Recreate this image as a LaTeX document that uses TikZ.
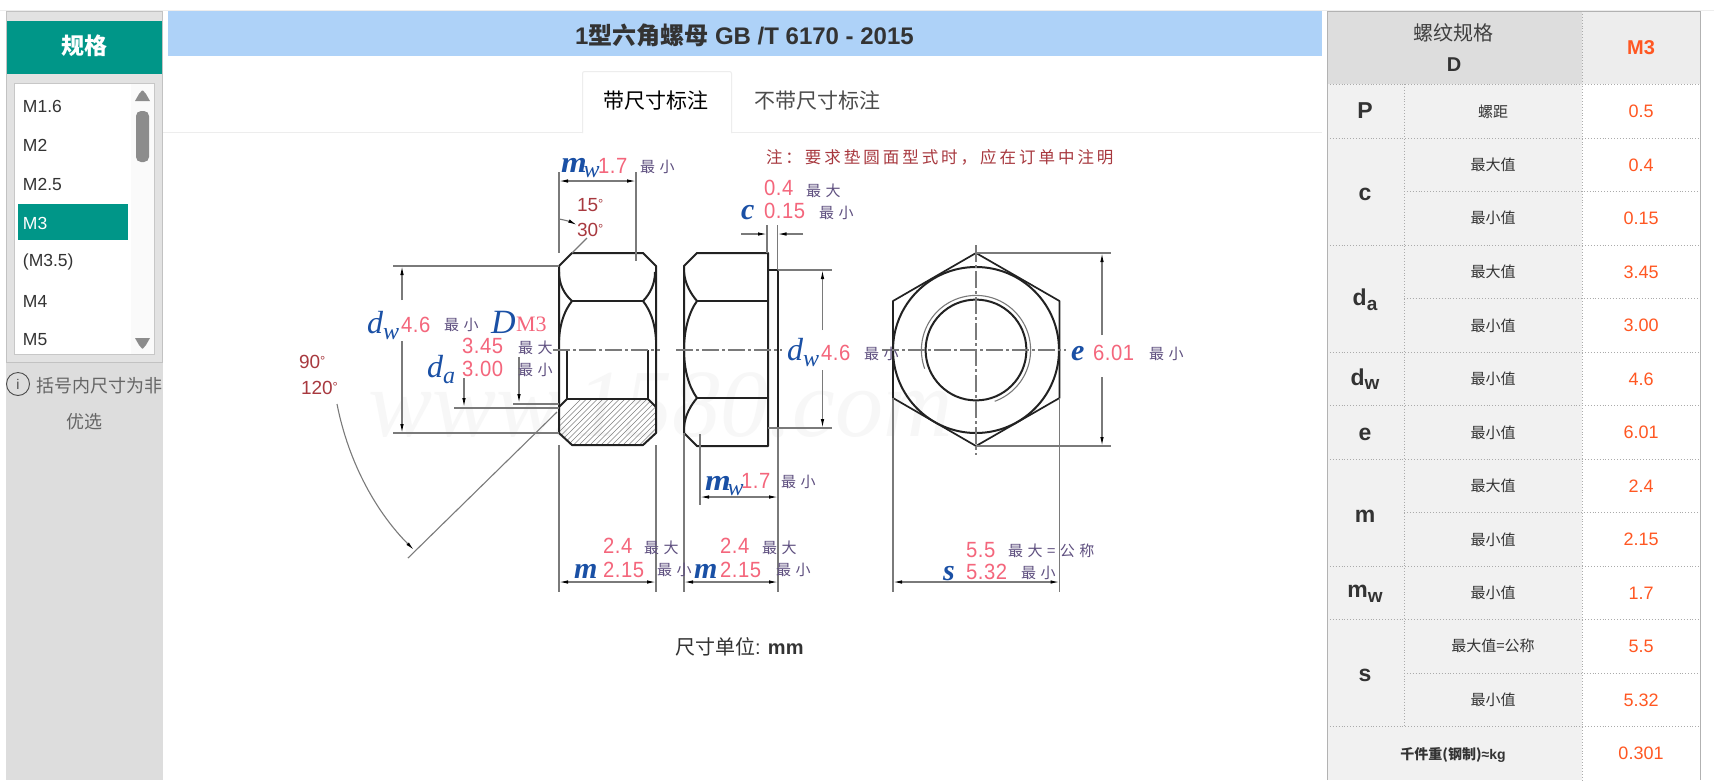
\documentclass[tikz,border=0pt]{standalone}
\usepackage{fontspec}
\usepackage{graphicx}
\usetikzlibrary{arrows.meta}
\setmainfont{Liberation Sans}
\newfontfamily\cjk{Noto Sans CJK SC}
\newfontfamily\cjkzui[LetterSpace=30]{Noto Sans CJK SC}
\newfontfamily\cjknote[LetterSpace=18]{Noto Sans CJK SC}
\newfontfamily\srf{Liberation Serif}
\newcommand\fs[1]{\fontsize{#1}{#1}\selectfont}
\definecolor{teal1}{HTML}{009688}
\definecolor{sidebg}{HTML}{DDDDDD}
\definecolor{sidelt}{HTML}{E2E2E2}
\definecolor{sideln}{HTML}{C2C2C2}
\definecolor{titlebg}{HTML}{AED2F8}
\definecolor{ink}{HTML}{333333}
\definecolor{dimred}{HTML}{F4667C}
\definecolor{dimblue}{HTML}{1A50A5}
\definecolor{dimpurple}{HTML}{5F5080}
\definecolor{notered}{HTML}{A8393F}
\definecolor{orng}{HTML}{FF5722}
\definecolor{cellbg}{HTML}{F1F1F1}
\definecolor{drawline}{HTML}{7A7A7A}
\definecolor{bold}{HTML}{222222}
\newcommand\rn[1]{\scalebox{.92}[1]{\fs{22}\addfontfeature{LetterSpace=3}#1}}
\newcommand\zui[1]{{\cjkzui\fs{15}\color{dimpurple}#1}}
\newcommand\mw{\scalebox{1.1}[1]{\srf\bfseries\itshape\fs{30}m}\kern-3pt\raisebox{-5pt}{\srf\itshape\fs{24}w}}
\newcommand\dsub[1]{\srf\itshape\fs{32}d\kern0pt\raisebox{-6pt}{\fs{24}#1}}
\newcommand\dg{\raisebox{3pt}{\fs{13}°}}
\tikzset{
 txt/.style={inner sep=0pt,outer sep=0pt,font=\fs{16},text=ink},
 lab/.style={txt,anchor=west},
 item/.style={lab,font=\fs{17.5}},
 nutline/.style={draw=bold,line width=2pt,line join=round},
 thin1/.style={draw=drawline,line width=1.1pt},
 dim/.style={thin1,{Latex[length=9pt,width=3.5pt,black]}-{Latex[length=9pt,width=3.5pt,black]}},
 tipend/.style={thin1,-{Latex[length=9pt,width=3.5pt,black]}},
 ctr/.style={draw=drawline,line width=1.1pt,dash pattern=on 17pt off 3pt on 3pt off 3pt},
 tabline/.style={draw=black!33,line width=.9pt,dotted},
 cval/.style={txt,text=orng,font=\fs{18}},
 cmid/.style={txt,font={\cjk\fs{15}}},
 chead/.style={txt,font=\bfseries\fs{23}},
 redtxt/.style={lab,text=dimred},
 blue/.style={lab,text=dimblue},
 ang/.style={lab,text=notered,font=\fs{19}},
}
\begin{document}
\begin{tikzpicture}[x=1pt,y=-1pt]
\useasboundingbox (0,0) rectangle (1714,780);
\fill[white] (0,0) rectangle (1714,780);
\draw[black!7] (0,10.5) -- (1714,10.5);
% ---- side panel
\fill[sidebg] (6,11) rectangle (163,780);
\filldraw[fill=sidelt,draw=sideln,line width=.9pt] (6.5,11.5) rectangle (162.5,362);
\fill[teal1] (7,21) rectangle (162,74);
\node[txt,text=white,font={\cjk\bfseries\fs{23}}] (specT) at (84,46) {规格};
\filldraw[fill=white,draw=black!22,line width=.9pt] (14.5,83.5) rectangle (154.5,354.5);
\fill[black!2] (131,84) rectangle (154,354);
\fill[teal1] (18,204) rectangle (128,240);
\fill[black!45] (135,101) -- (150,101) -- (146,94) -- (143,90.5) -- (142,90.5) -- (139,94) -- cycle;
\fill[black!45] (135,338) -- (150,338) -- (146,345) -- (143,348.5) -- (142,348.5) -- (139,345) -- cycle;
\fill[black!45,rounded corners=5pt] (136,111) rectangle (149,162);
\node[item] (i1) at (23,106) {M1.6};
\node[item] (i2) at (23,145) {M2};
\node[item] (i3) at (23,184) {M2.5};
\node[item,text=white] (i4) at (23,223) {M3};
\node[item] (i5) at (23,262) {(M3.5)};
\node[item] (i6) at (23,301) {M4};
\node[item] (i7) at (23,340) {M5};
\node[circle,draw=black!70,line width=.9pt,minimum size=23pt,inner sep=0pt,font=\fs{14},text=black!70] (info) at (18,384) {i};
\node[lab,text=black!60,font={\cjk\fs{18}}] (note1) at (36,386) {括号内尺寸为非};
\node[txt,text=black!60,font={\cjk\fs{18}}] (note2) at (84,422) {优选};
% ---- title and tabs
\fill[titlebg] (168,11) rectangle (1322,56);
\node[lab,font=\bfseries\fs{24}] (title) at (575,35) {1{\cjk 型六角螺母} GB /T 6170 - 2015};
\draw[black!7,line width=1pt] (163,132) -- (1322,132);
\filldraw[fill=white,draw=black!7,line width=1pt,rounded corners=2pt] (582.5,133) -- (582.5,71.5) -- (731.5,71.5) -- (731.5,133);
\node[txt,text=black,font={\cjk\fs{21}}] (tab1) at (656,101) {带尺寸标注};
\node[txt,text=black!70,font={\cjk\fs{21}}] (tab2) at (817,101) {不带尺寸标注};
\node[lab,font=\fs{20}] (unit) at (675,647) {{\cjk 尺寸单位}: \textbf{mm}};
% ---- watermark
\node[lab,text=black!3,font={\srf\itshape\fs{96}}] (wm) at (368,405) {www.1580.com};
% ---- nut A: hatching
\begin{scope}
\clip (559,407) -- (567,399) -- (648,399) -- (656,407) -- (656,433) -- (643,445) -- (572,445) -- (559,433) -- cycle;
\foreach \h in {0,5.5,...,170}{\draw[draw=black!50,line width=.6pt] (530+\h,450) -- (585+\h,395);}
\end{scope}
% ---- nut A: outline
\draw[nutline] (572,253) -- (643,253) -- (656,266) -- (656,433) -- (643,445) -- (572,445) -- (559,433) -- (559,266) -- cycle;
\draw[nutline] (572,301) -- (643,301);
\draw[nutline] (559,272) .. controls (559,284) and (564,294) .. (572,301);
\draw[nutline] (655,272) .. controls (655,284) and (650,294) .. (643,301);
\draw[nutline] (572,301) .. controls (565,310) and (560,322) .. (559,340);
\draw[nutline] (643,301) .. controls (650,310) and (655,322) .. (656,340);
\draw[nutline] (567,350) -- (567,399) -- (648,399) -- (648,350);
\draw[nutline] (559,407) -- (567,399) (648,399) -- (656,407);
% ---- nut B: outline
\draw[nutline] (697,253) -- (768,253) -- (768,446) -- (697,446) -- (684,433) -- (684,266) -- cycle;
\draw[nutline] (768,270) -- (778,270) -- (778,428) -- (768,428);
\draw[nutline] (697,301) -- (768,301) (697,398) -- (768,398);
\draw[nutline] (684,272) .. controls (685,284) and (691,294) .. (697,301);
\draw[nutline] (684,427) .. controls (685,415) and (691,405) .. (697,398);
\draw[nutline] (697,301) .. controls (689,312) and (684,330) .. (684,350) .. controls (684,370) and (689,387) .. (697,398);
% ---- nut C: end view
\draw[nutline,line width=1.7pt] (976,253) -- (1059.5,301) -- (1059.5,398) -- (976,446) -- (893,398) -- (893,301) -- cycle;
\draw[nutline] (976,350) circle[radius=83];
\draw[nutline] (976,350) circle[radius=50.4];
\draw[thin1] plot[domain=160:430,samples=80,smooth] ({976+54.6*cos(\x)},{350+54.6*sin(\x)});
% ---- centre lines
\draw[ctr] (553,350) -- (660,350);
\draw[ctr] (676,350) -- (782,350);
\draw[ctr] (882,350) -- (1066,350);
\draw[ctr] (976,245) -- (976,455);
% ---- extension lines
\draw[thin1] (559,172) -- (559,253) (636,172) -- (636,261);
\draw[thin1] (559,445) -- (559,592) (656,445) -- (656,592);
\draw[thin1] (684,433) -- (684,592) (778,428) -- (778,592);
\draw[thin1] (700,434) -- (700,505);
\draw[thin1] (767,225) -- (767,253) (777.5,225) -- (777.5,270);
\draw[thin1] (893,398) -- (893,592) (1059.5,398) -- (1059.5,592);
\draw[thin1] (393,266) -- (559,266) (393,433) -- (559,433);
\draw[thin1] (454,408) -- (559,408) (513,404) -- (559,404);
\draw[thin1] (778,270) -- (831.5,270) (768,428) -- (831.5,428);
\draw[thin1] (976,253) -- (1111,253) (976,446) -- (1111,446);
% ---- dimension lines
\draw[dim] (559,181) -- (636,181);
\draw[dim] (559,582) -- (656,582);
\draw[dim] (684,582) -- (778,582);
\draw[dim] (700,497) -- (778,497);
\draw[dim] (893,582) -- (1059.5,582);
\coordinate (c1) at (741,234); \coordinate (c2) at (767,234); \coordinate (c3) at (777.5,234); \coordinate (c4) at (803,234);
\draw[tipend] (c1) -- (c2);
\draw[tipend] (c4) -- (c3);
\draw[tipend] (402,300) -- (402,266);
\draw[tipend] (402,341) -- (402,433);
\draw[tipend] (822.5,330) -- (822.5,270);
\draw[tipend] (822.5,370) -- (822.5,428);
\draw[tipend] (1102,335) -- (1102,253);
\draw[tipend] (1102,377) -- (1102,446);
\draw[tipend] (464,378) -- (464,407);
\draw[tipend] (519,357) -- (519,403);
\draw[tipend] (559,219) .. controls (565,220) and (571,222) .. (577,225);
\draw[thin1] (587,238) -- (572,253);
\draw[thin1] (557,412) -- (408,558);
\draw[tipend] (337,404) .. controls (349,465) and (378,514) .. (414,550);
% ---- drawing texts: top
\node[lab,text=notered,font={\cjknote\fs{16.5}}] (note) at (766,157) {注：要求垫圆面型式时，应在订单中注明};
\node[blue] (mwA) at (561,168) {\mw};
\node[redtxt] (mwAv) at (598,166) {\rn{1.7}};
\node[lab] (mwAz) at (640,167) {\zui{最小}};
\node[ang] (a15) at (577,205) {15\dg};
\node[ang] (a30) at (577,230) {30\dg};
\node[ang] (a90) at (299,362) {90\dg};
\node[ang] (a120) at (301,388) {120\dg};
% left
\node[blue] (dwA) at (367,326) {\dsub{w}};
\node[redtxt] (dwAv) at (401,325) {\rn{4.6}};
\node[lab] (dwAz) at (444,325) {\zui{最小}};
\node[blue,font={\srf\itshape\fs{34}}] (D) at (491,322) {D};
\node[redtxt,font={\srf\fs{22}}] (M3t) at (516,324) {M3};
\node[redtxt] (d345) at (462,346) {\rn{3.45}};
\node[lab] (d345z) at (518,348) {\zui{最大}};
\node[blue] (da) at (427,370) {\dsub{a}};
\node[redtxt] (d300) at (462,369) {\rn{3.00}};
\node[lab] (d300z) at (518,370) {\zui{最小}};
% c
\node[blue,font={\srf\bfseries\itshape\fs{30}}] (cl) at (741,213) {c};
\node[redtxt] (c04) at (764,188) {\rn{0.4}};
\node[lab] (c04z) at (806,191) {\zui{最大}};
\node[redtxt] (c015) at (764,211) {\rn{0.15}};
\node[lab] (c015z) at (819,213) {\zui{最小}};
% right dw, e
\node[blue] (dwB) at (787,353) {\dsub{w}};
\node[redtxt] (dwBv) at (821,353) {\rn{4.6}};
\node[lab] (dwBz) at (864,354) {\zui{最小}};
\node[blue,font={\srf\bfseries\itshape\fs{30}}] (el) at (1071,354) {e};
\node[redtxt] (ev) at (1093,353) {\rn{6.01}};
\node[lab] (evz) at (1149,354) {\zui{最小}};
% bottom
\node[blue] (mwB) at (705,486) {\mw};
\node[redtxt] (mwBv) at (741,481) {\rn{1.7}};
\node[lab] (mwBz) at (781,482) {\zui{最小}};
\node[redtxt] (m24a) at (603,546) {\rn{2.4}};
\node[lab] (m24az) at (644,548) {\zui{最大}};
\node[blue,font={\srf\bfseries\itshape\fs{30}}] (mA) at (574,571) {m};
\node[redtxt] (m215a) at (603,570) {\rn{2.15}};
\node[lab] (m215az) at (657,570) {\zui{最小}};
\node[redtxt] (m24b) at (720,546) {\rn{2.4}};
\node[lab] (m24bz) at (762,548) {\zui{最大}};
\node[blue,font={\srf\bfseries\itshape\fs{30}}] (mB) at (694,571) {m};
\node[redtxt] (m215b) at (720,570) {\rn{2.15}};
\node[lab] (m215bz) at (776,570) {\zui{最小}};
\node[redtxt] (s55) at (966,550) {\rn{5.5}};
\node[lab] (s55z) at (1008,551) {\zui{最大=公称}};
\node[blue,font={\srf\bfseries\itshape\fs{30}}] (sl) at (943,574) {s};
\node[redtxt] (s532) at (966,572) {\rn{5.32}};
\node[lab] (s532z) at (1021,573) {\zui{最小}};
% ---- table
\fill[cellbg] (1327,84) rectangle (1582,780);
\fill[sidebg] (1327,11) rectangle (1582,84);
\fill[black!7] (1582,11) rectangle (1700,84);
\draw[tabline] (1404,84) -- (1404,726);
\draw[tabline] (1582,11) -- (1582,780);
\draw[tabline] (1327,84) -- (1700,84);
\foreach \yy in {138.5,245.5,352,405,459,566,619,726}{\draw[tabline] (1327,\yy) -- (1700,\yy);}
\foreach \yy in {191.5,298.5,512,673}{\draw[tabline] (1404,\yy) -- (1700,\yy);}
\draw[draw=black!30,line width=1pt] (1327,780) -- (1327,11) -- (1700,11) -- (1700,780);
\node[txt,font={\cjk\fs{20}},text=black!75] (h1) at (1453,33) {螺纹规格};
\node[txt,font=\bfseries\fs{20}] (h2) at (1454,65) {D};
\node[txt,font=\bfseries\fs{20},text=orng] (h3) at (1641,48) {M3};
\node[chead] (lP) at (1365,111) {P};
\node[chead] (lc) at (1365,194) {c};
\node[chead] (lda) at (1365,300) {d\raisebox{-4.5pt}{\fs{19}a}};
\node[chead] (ldw) at (1365,379) {d\raisebox{-4.5pt}{\fs{19}w}};
\node[chead] (le) at (1365,434) {e};
\node[chead] (lm) at (1365,516) {m};
\node[chead] (lmw) at (1365,594) {m\raisebox{-4.5pt}{\fs{19}w}};
\node[chead] (ls) at (1365,675) {s};
\node[cmid] (t1) at (1493,112) {螺距};
\node[cmid] (t2) at (1493,165) {最大值};
\node[cmid] (t3) at (1493,218) {最小值};
\node[cmid] (t4) at (1493,272) {最大值};
\node[cmid] (t5) at (1493,326) {最小值};
\node[cmid] (t6) at (1493,379) {最小值};
\node[cmid] (t7) at (1493,433) {最小值};
\node[cmid] (t8) at (1493,486) {最大值};
\node[cmid] (t9) at (1493,540) {最小值};
\node[cmid] (t10) at (1493,593) {最小值};
\node[cmid] (t11) at (1493,646) {最大值=公称};
\node[cmid] (t12) at (1493,700) {最小值};
\node[txt,font=\bfseries\fs{14}] (t13) at (1453,755) {{\cjk 千件重(钢制)}≈kg};
\node[cval] (v1) at (1641,111) {0.5};
\node[cval] (v2) at (1641,165) {0.4};
\node[cval] (v3) at (1641,218) {0.15};
\node[cval] (v4) at (1641,272) {3.45};
\node[cval] (v5) at (1641,325) {3.00};
\node[cval] (v6) at (1641,379) {4.6};
\node[cval] (v7) at (1641,432) {6.01};
\node[cval] (v8) at (1641,486) {2.4};
\node[cval] (v9) at (1641,539) {2.15};
\node[cval] (v10) at (1641,593) {1.7};
\node[cval] (v11) at (1641,646) {5.5};
\node[cval] (v12) at (1641,700) {5.32};
\node[cval] (v13) at (1641,753) {0.301};
\end{tikzpicture}
\end{document}
